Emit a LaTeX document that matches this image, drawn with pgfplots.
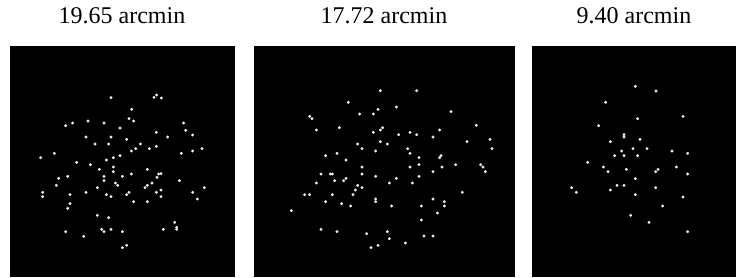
\documentclass[border=0pt]{standalone}
\usepackage{fontspec}
\setmainfont{Liberation Serif}
\usepackage{pgfplots}
\pgfplotsset{compat=1.18}
\pgfplotsset{
  starpanel/.style={
    scale only axis, anchor=south west,
    height=230pt, ymin=18, ymax=708, y dir=reverse,
    axis background/.style={fill=black},
    axis line style={draw=black},
    ticks=none,
    title style={anchor=base, at={(0.5,1)}, yshift=17pt, font=\fontsize{24}{27}\selectfont},
  },
  stars/.style={only marks, mark=*, mark size=1.25pt, color=white!88!gray, mark options={draw=none, fill=white!88!gray}},
}
\begin{document}
\begin{tikzpicture}
\path[use as bounding box] (0,0) rectangle (736pt,277pt);
\begin{axis}[starpanel, at={(10pt,1pt)}, width=224pt, xmin=30, xmax=702, title={19.65 arcmin}]
\addplot[stars] coordinates {
(333,173) (462,172) (470,165) (484,174) (395,208) (387,236) (401,243) (551,249)
(197,257) (218,249) (264,243) (312,249) (360,264) (469,277) (557,271) (578,285)
(258,291) (333,291) (380,298) (503,291) (285,312) (326,312) (421,312) (407,326)
(394,333) (448,326) (469,319) (606,326) (578,333) (544,340) (163,340) (122,353)
(230,367) (271,374) (319,360) (340,353) (360,347) (298,388) (340,381) (340,395)
(442,388) (176,415) (203,409) (312,409) (367,409) (394,402) (476,402) (483,401)
(471,412) (312,422) (346,429) (353,436) (456,429) (442,436) (435,443) (538,422)
(169,436) (292,443) (258,457) (128,457) (128,470) (210,464) (319,464) (333,470)
(380,464) (387,457) (469,457) (483,450) (483,470) (578,457) (613,443) (592,477)
(401,485) (442,485) (210,491) (203,505) (292,526) (326,533) (524,547) (530,562)
(530,568) (490,568) (305,568) (312,575) (333,568) (367,575) (197,575) (251,589)
(367,623) (380,616)
};
\end{axis}
\begin{axis}[starpanel, at={(254pt,1pt)}, width=260pt, xmin=27, xmax=807, title={17.72 arcmin}]
\addplot[stars] coordinates {
(406,152) (515,152) (310,187) (454,201) (399,208) (385,222) (344,222) (618,215)
(194,229) (201,236) (214,270) (283,263) (385,277) (406,270) (413,263) (461,284)
(495,277) (515,284) (564,291) (584,270) (694,256) (735,298) (741,326) (666,305)
(338,312) (351,326) (406,305) (427,312) (392,333) (488,326) (495,340) (522,353)
(584,353) (588,347) (242,347) (276,340) (303,360) (351,381) (495,381) (522,374)
(591,381) (632,374) (707,374) (714,381) (721,395) (564,395) (228,402) (256,402)
(262,402) (269,422) (296,422) (303,415) (351,402) (392,409) (454,415) (433,429)
(502,429) (522,409) (214,429) (338,436) (351,443) (331,450) (324,464) (179,464)
(194,464) (262,464) (242,485) (290,491) (317,498) (392,477) (392,485) (440,498)
(529,498) (564,477) (598,485) (598,498) (577,519) (652,457) (139,512) (529,540)
(228,568) (276,575) (365,581) (427,575) (433,596) (481,609) (537,588) (564,588)
(399,616) (378,623)
};
\end{axis}
\begin{axis}[starpanel, at={(532pt,1pt)}, width=204pt, xmin=51, xmax=663, title={9.40 arcmin}]
\addplot[stars] coordinates {
(361,139) (423,153) (272,187) (504,229) (368,236) (251,257) (327,284) (327,291)
(375,298) (286,305) (354,326) (396,326) (320,333) (299,347) (327,347) (368,347)
(471,333) (518,340) (218,367) (265,381) (279,395) (334,388) (422,395) (429,388)
(484,381) (518,402) (361,416) (306,436) (327,436) (286,450) (422,443) (170,443)
(184,457) (361,464) (504,471) (443,498) (347,526) (402,547) (518,575)
};
\end{axis}
\end{tikzpicture}
\end{document}
